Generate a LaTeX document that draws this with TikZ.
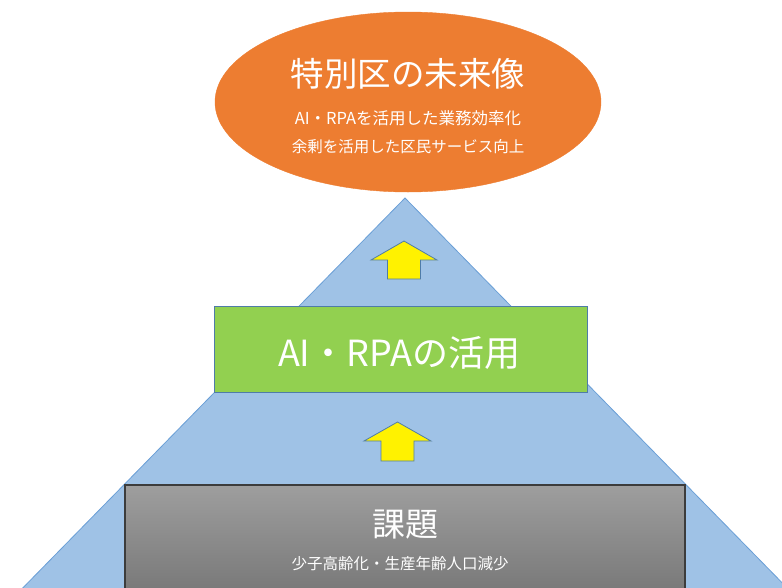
\documentclass[tikz,border=0pt]{standalone}
\usepackage{fontspec}
\setmainfont{Noto Sans CJK JP}
\usetikzlibrary{shapes.geometric}
\definecolor{trifill}{HTML}{9FC2E6}
\definecolor{triedge}{HTML}{6A9FD6}
\definecolor{visorange}{HTML}{ED7D31}
\definecolor{aigreen}{HTML}{92D050}
\definecolor{boxedge}{HTML}{4F7CA8}
\definecolor{graytop}{HTML}{9E9E9E}
\definecolor{graybot}{HTML}{747474}
\definecolor{grayedge}{HTML}{3C3C3C}
\tikzset{
  wtext/.style={text=white, inner sep=0pt, anchor=center},
  uparrow/.style={fill=yellow, draw=boxedge, line width=0.8pt, line join=miter},
}
\begin{document}
\begin{tikzpicture}[x=1pt,y=-1pt]
\useasboundingbox (0,0) rectangle (782,587);
\clip (0,0) rectangle (782,587);
% pyramid
\coordinate (apex) at (405,198);
\coordinate (baseR) at (799,600);
\coordinate (baseL) at (11,600);
\filldraw[fill=trifill, draw=triedge, line width=0.8pt] (apex) -- (baseR) -- (baseL) -- cycle;
% vision ellipse
\node[ellipse, fill=visorange, draw=visorange, minimum width=386, minimum height=180, inner sep=0pt] (vision) at (408,102) {};
\node[wtext, font=\fontsize{33.5}{33.5}\selectfont] (vtitle) at (408,74) {特別区の未来像};
\node[wtext, font=\fontsize{16.5}{16.5}\selectfont] (vline1) at (408,118) {AI・RPAを活用した業務効率化};
\node[wtext, font=\fontsize{15.5}{15.5}\selectfont] (vline2) at (408,147) {余剰を活用した区民サービス向上};
% upper arrow
\coordinate (arrA) at (404,260);
\filldraw[uparrow] ([shift={(0,-19)}]arrA) -- ([shift={(33,0)}]arrA) -- ([shift={(16.5,0)}]arrA) -- ([shift={(16.5,19)}]arrA) -- ([shift={(-16.5,19)}]arrA) -- ([shift={(-16.5,0)}]arrA) -- ([shift={(-33,0)}]arrA) -- cycle;
% AI box
\node[rectangle, fill=aigreen, draw=boxedge, line width=0.8pt, minimum width=373, minimum height=86, inner sep=0pt] (ai) at (400.5,349) {};
\node[wtext, font=\fontsize{36}{36}\selectfont] (aitext) at (399,353) {AI・RPAの活用};
% lower arrow
\coordinate (arrB) at (397.5,441);
\filldraw[uparrow] ([shift={(0,-19)}]arrB) -- ([shift={(33.5,0)}]arrB) -- ([shift={(16.5,0)}]arrB) -- ([shift={(16.5,20)}]arrB) -- ([shift={(-16.5,20)}]arrB) -- ([shift={(-16.5,0)}]arrB) -- ([shift={(-33.5,0)}]arrB) -- cycle;
% issue box
\shade[top color=graytop, bottom color=graybot, draw=grayedge, line width=1.5pt] (125,485) rectangle (685,605);
\node[wtext, font=\fontsize{33}{33}\selectfont] (issue) at (405,525) {課題};
\node[wtext, font=\fontsize{15.5}{15.5}\selectfont] (issuesub) at (400,564) {少子高齢化・生産年齢人口減少};
\end{tikzpicture}
\end{document}
